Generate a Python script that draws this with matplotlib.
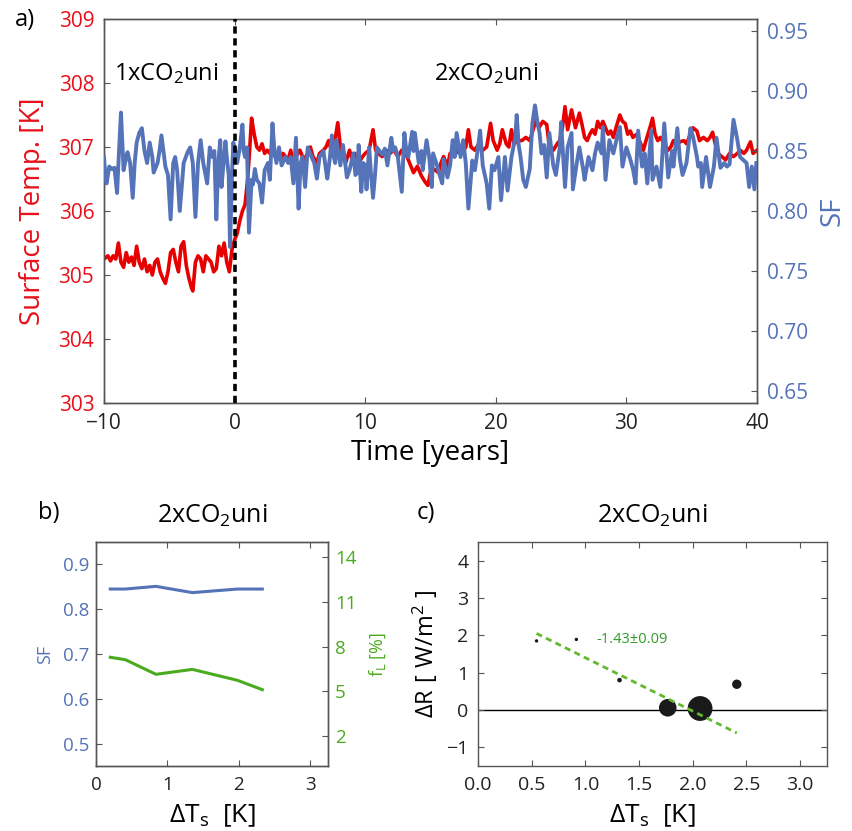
import numpy as np
import matplotlib
matplotlib.use("Agg")
import matplotlib.pyplot as plt

plt.rcParams['font.family'] = ['Open Sans', 'DejaVu Sans']
plt.rcParams['mathtext.fontset'] = 'custom'
plt.rcParams['mathtext.rm'] = 'Open Sans'
plt.rcParams['mathtext.it'] = 'Open Sans'

# ---------------- data: panel a ----------------
t_red = [-10.0, -9.7, -9.5, -9.3, -9.1, -8.9, -8.7, -8.5, -8.3, -8.1, -7.9, -7.7, -7.5, -7.3, -7.1,
         -6.9, -6.7, -6.5, -6.3, -6.1, -5.9, -5.7, -5.5, -5.3, -5.1, -4.9, -4.7, -4.5, -4.3, -4.1,
         -3.9, -3.7, -3.5, -3.3, -3.2, -3.0, -2.8, -2.6, -2.4, -2.2, -2.0, -1.8, -1.6, -1.4, -1.2,
         -1.0, -0.8, -0.6, -0.4, -0.2, 0.0, 0.2, 0.4, 0.6, 0.8, 1.0, 1.15, 1.3, 1.5, 1.7, 1.9, 2.1,
         2.3, 2.5, 2.7, 2.9, 3.1, 3.3, 3.5, 3.7, 3.9, 4.1, 4.3, 4.5, 4.7, 5.0, 5.3, 5.6, 5.8, 6.0,
         6.3, 6.5, 6.8, 7.0, 7.2, 7.4, 7.6, 7.9, 8.1, 8.3, 8.5, 8.8, 9.0, 9.2, 9.5, 9.8, 10.0, 10.3,
         10.6, 10.8, 11.0, 11.3, 11.6, 11.9, 12.2, 12.5, 12.8, 13.1, 13.4, 13.7, 14.0, 14.3, 14.6,
         14.8, 15.0, 15.3, 15.6, 15.8, 16.0, 16.3, 16.5, 16.8, 17.1, 17.4, 17.7, 17.9, 18.1, 18.4,
         18.7, 19.0, 19.3, 19.6, 19.8, 20.1, 20.3, 20.5, 20.8, 21.0, 21.2, 21.4, 21.7, 22.0, 22.3,
         22.6, 22.9, 23.1, 23.3, 23.6, 23.9, 24.1, 24.4, 24.7, 24.9, 25.1, 25.3, 25.5, 25.8, 26.1,
         26.4, 26.6, 26.8, 27.0, 27.2, 27.4, 27.6, 27.8, 28.0, 28.2, 28.4, 28.6, 28.8, 29.0, 29.2,
         29.5, 29.7, 29.9, 30.1, 30.3, 30.5, 30.8, 31.0, 31.3, 31.5, 31.8, 32.0, 32.2, 32.4, 32.6,
         32.9, 33.2, 33.4, 33.6, 33.9, 34.1, 34.4, 34.6, 34.9, 35.1, 35.4, 35.6, 35.9, 36.2, 36.4,
         36.6, 36.8, 37.0, 37.3, 37.6, 37.9, 38.2, 38.5, 38.7, 39.0, 39.2, 39.5, 39.7, 40.0]
temp = [305.25, 305.30, 305.22, 305.30, 305.25, 305.50, 305.20, 305.12, 305.35, 305.20, 305.28,
        305.15, 305.45, 305.20, 305.10, 305.25, 305.05, 305.15, 305.00, 305.20, 305.25, 305.05,
        304.95, 304.87, 305.05, 305.35, 305.40, 305.20, 305.05, 305.45, 305.52, 305.15, 304.95,
        304.80, 304.75, 305.20, 305.30, 305.25, 305.05, 305.30, 305.25, 305.20, 305.05, 305.10,
        305.45, 305.30, 305.50, 305.20, 305.05, 305.40, 305.55, 305.65, 305.85, 306.00, 306.10,
        306.50, 306.95, 307.45, 307.20, 307.00, 306.95, 307.05, 306.90, 306.95, 306.90, 307.00,
        306.85, 306.90, 306.80, 306.90, 306.85, 306.80, 306.95, 306.70, 306.85, 306.95, 306.80,
        306.90, 307.00, 306.85, 306.75, 306.90, 306.95, 307.00, 307.10, 306.95, 307.00, 307.38,
        307.00, 306.85, 306.75, 306.95, 306.80, 306.90, 306.75, 306.85, 306.90, 306.95, 307.27,
        306.95, 306.90, 306.85, 306.95, 306.90, 306.95, 306.85, 306.95, 306.90, 306.75, 306.60,
        306.70, 306.55, 306.45, 306.40, 306.60, 306.65, 306.60, 306.75, 306.85, 306.70, 306.90,
        306.85, 306.95, 306.90, 307.00, 307.27, 307.00, 306.95, 307.05, 306.95, 307.00, 307.37,
        307.10, 306.95, 307.05, 307.27, 307.05, 307.00, 307.27, 307.05, 307.10, 307.10, 307.15,
        307.10, 307.30, 307.45, 307.30, 307.40, 307.35, 307.00, 306.95, 307.05, 307.10, 307.30,
        307.63, 307.27, 307.58, 307.30, 307.53, 307.35, 307.15, 307.10, 307.20, 307.27, 307.20,
        307.40, 307.30, 307.40, 307.30, 307.20, 307.25, 307.15, 307.30, 307.50, 307.40, 307.37,
        307.20, 307.25, 307.15, 307.20, 307.10, 306.95, 307.10, 307.30, 307.45, 307.20, 307.10,
        307.15, 307.05, 306.95, 307.00, 307.10, 307.05, 307.08, 307.10, 307.05, 307.20, 307.30,
        307.25, 307.10, 307.15, 307.10, 307.15, 307.23, 307.05, 306.90, 306.85, 306.80, 306.90,
        306.85, 306.90, 306.95, 306.90, 306.95, 307.08, 306.90, 306.95]

t_blue = [-10.0, -9.9, -9.8, -9.6, -9.4, -9.2, -9.0, -8.85, -8.7, -8.5, -8.3, -8.2, -8.0, -7.8,
          -7.65, -7.5, -7.3, -7.1, -6.9, -6.7, -6.5, -6.3, -6.2, -5.9, -5.75, -5.6, -5.3, -5.1,
          -4.9, -4.7, -4.55, -4.4, -4.2, -3.9, -3.6, -3.4, -3.2, -3.0, -2.8, -2.6, -2.4, -2.1,
          -1.9, -1.7, -1.55, -1.4, -1.25, -1.1, -1.0, -0.85, -0.7, -0.6, -0.45, -0.35, -0.2, -0.1,
          0.05, 0.2, 0.4, 0.6, 0.7, 0.8, 0.95, 1.1, 1.3, 1.4, 1.55, 1.7, 1.9, 2.1, 2.3, 2.55, 2.7,
          2.9, 3.05, 3.2, 3.4, 3.6, 3.9, 4.1, 4.3, 4.5, 4.7, 4.9, 5.05, 5.2, 5.4, 5.6, 5.9, 6.1,
          6.3, 6.5, 6.8, 7.0, 7.1, 7.3, 7.45, 7.6, 7.7, 7.8, 8.0, 8.1, 8.3, 8.6, 8.8, 9.1, 9.25,
          9.4, 9.5, 9.7, 9.85, 10.0, 10.1, 10.3, 10.45, 10.6, 10.75, 10.9, 11.1, 11.3, 11.5, 11.7,
          12.0, 12.15, 12.3, 12.5, 12.8, 13.0, 13.15, 13.3, 13.6, 13.7, 13.8, 14.1, 14.3, 14.4,
          14.7, 14.9, 15.1, 15.2, 15.5, 15.7, 15.9, 16.0, 16.3, 16.5, 16.7, 16.85, 17.0, 17.3,
          17.5, 17.7, 17.9, 18.2, 18.4, 18.6, 18.8, 19.0, 19.3, 19.5, 19.7, 19.9, 20.2, 20.4,
          20.7, 20.9, 21.2, 21.5, 21.6, 21.75, 21.9, 22.1, 22.3, 22.6, 22.8, 23.0, 23.2, 23.35,
          23.5, 23.7, 23.9, 24.1, 24.4, 24.6, 24.9, 25.0, 25.3, 25.5, 25.8, 25.9, 26.2, 26.4,
          26.7, 26.8, 27.1, 27.4, 27.6, 27.8, 28.1, 28.2, 28.4, 28.7, 29.0, 29.3, 29.5, 29.7,
          30.0, 30.3, 30.5, 30.7, 30.9, 31.2, 31.4, 31.6, 31.9, 32.0, 32.3, 32.6, 32.9, 33.05,
          33.2, 33.5, 33.6, 33.9, 34.1, 34.3, 34.6, 34.9, 35.1, 35.4, 35.5, 35.7, 35.8, 36.1,
          36.4, 36.7, 36.9, 37.2, 37.5, 37.7, 37.9, 38.2, 38.5, 38.7, 38.9, 39.2, 39.4, 39.6,
          39.8, 39.95]
sf = [0.845, 0.830, 0.823, 0.837, 0.835, 0.836, 0.815, 0.850, 0.882, 0.834, 0.845, 0.849, 0.840,
      0.811, 0.840, 0.857, 0.865, 0.869, 0.850, 0.840, 0.857, 0.845, 0.832, 0.840, 0.850, 0.863,
      0.837, 0.830, 0.793, 0.840, 0.845, 0.834, 0.800, 0.840, 0.849, 0.853, 0.840, 0.795, 0.840,
      0.859, 0.840, 0.823, 0.853, 0.845, 0.850, 0.793, 0.840, 0.859, 0.820, 0.840, 0.858, 0.845,
      0.830, 0.770, 0.830, 0.857, 0.850, 0.840, 0.853, 0.872, 0.850, 0.845, 0.853, 0.782, 0.826,
      0.822, 0.835, 0.826, 0.823, 0.807, 0.834, 0.840, 0.826, 0.873, 0.850, 0.840, 0.853, 0.838,
      0.845, 0.840, 0.845, 0.823, 0.861, 0.802, 0.840, 0.845, 0.820, 0.853, 0.845, 0.840, 0.827,
      0.845, 0.850, 0.834, 0.827, 0.845, 0.863, 0.845, 0.840, 0.859, 0.845, 0.838, 0.855, 0.828,
      0.834, 0.848, 0.830, 0.832, 0.855, 0.816, 0.840, 0.838, 0.818, 0.853, 0.830, 0.811, 0.830,
      0.853, 0.850, 0.847, 0.852, 0.838, 0.861, 0.850, 0.853, 0.845, 0.816, 0.865, 0.850, 0.845,
      0.866, 0.850, 0.865, 0.840, 0.850, 0.834, 0.859, 0.845, 0.820, 0.848, 0.838, 0.830, 0.823,
      0.843, 0.828, 0.838, 0.859, 0.845, 0.865, 0.845, 0.859, 0.840, 0.802, 0.842, 0.834, 0.850,
      0.867, 0.838, 0.823, 0.802, 0.838, 0.834, 0.845, 0.809, 0.845, 0.817, 0.845, 0.862, 0.880,
      0.855, 0.845, 0.826, 0.820, 0.835, 0.873, 0.888, 0.873, 0.865, 0.848, 0.855, 0.828, 0.865,
      0.838, 0.830, 0.853, 0.874, 0.820, 0.853, 0.865, 0.818, 0.840, 0.853, 0.834, 0.826, 0.845,
      0.834, 0.848, 0.857, 0.848, 0.870, 0.826, 0.859, 0.848, 0.862, 0.870, 0.837, 0.853, 0.843,
      0.835, 0.823, 0.867, 0.837, 0.848, 0.823, 0.867, 0.826, 0.837, 0.820, 0.873, 0.850, 0.828,
      0.850, 0.837, 0.869, 0.843, 0.830, 0.840, 0.869, 0.862, 0.845, 0.837, 0.840, 0.820, 0.845,
      0.820, 0.837, 0.861, 0.836, 0.840, 0.837, 0.839, 0.876, 0.859, 0.845, 0.843, 0.840, 0.820,
      0.837, 0.818, 0.840]

# ---------------- data: panel b ----------------
dts_b = [0.2, 0.41, 0.84, 1.35, 1.98, 2.33]
sf_b = [0.845, 0.845, 0.851, 0.837, 0.845, 0.845]
fl_b = [7.28, 7.12, 6.14, 6.47, 5.74, 5.11]

# ---------------- data: panel c ----------------
dts_c = [0.545, 0.916, 1.318, 1.767, 2.068, 2.41]
dr_c = [1.85, 1.89, 0.80, 0.06, 0.04, 0.69]
slope_c = -1.43
slope_err_c = 0.09
intercept_c = 2.83

# ---------------- styles ----------------
RED = '#e60000'
RED_TXT = '#e8101a'
BLUE = '#5573b8'
GREEN = '#4aab1e'
GREEN_TXT = '#2f9a2a'
GREEN_DASH = '#62b92e'
SPINE = '#555555'
marker_sizes = [6, 6, 11, 160, 320, 46]

W, H = 852, 831
fig = plt.figure(figsize=(W / 100, H / 100), dpi=100)

def frac(l, t, r, b):
    return [l / W, 1 - b / H, (r - l) / W, (b - t) / H]

# ---------------- panel a ----------------
ax = fig.add_axes(frac(104, 19, 757, 403))
ax.plot(t_red, temp, color=RED, lw=2.6, zorder=3)
ax.set_xlim(-10, 40)
ax.set_ylim(303, 309)
ax.set_xticks([-10, 0, 10, 20, 30, 40])
ax.set_yticks(range(303, 310))
ax.set_xlabel('Time [years]', fontsize=20, labelpad=4)
ax.set_ylabel('Surface Temp. [K]', fontsize=20, color=RED_TXT, labelpad=8)
ax.tick_params(axis='x', direction='in', top=True, labelsize=15, length=4, pad=7,
               colors=SPINE, labelcolor='#222222')
ax.tick_params(axis='y', direction='in', labelsize=15, length=4, pad=7, colors=SPINE, labelcolor=RED_TXT)
ax.text(-9.2, 308.15, r'$\mathregular{1xCO_2uni}$', fontsize=17, va='center', ha='left')
ax.text(15.3, 308.15, r'$\mathregular{2xCO_2uni}$', fontsize=17, va='center', ha='left')

ax2 = ax.twinx()
ax2.plot(t_blue, sf, color=BLUE, lw=2.8, zorder=4)
ax2.axvline(0, color='black', lw=2.6, ls=(0, (2.0, 1.3)), zorder=5)
ax2.set_ylim(0.64, 0.96)
ax2.set_yticks([0.65, 0.70, 0.75, 0.80, 0.85, 0.90, 0.95])
ax2.set_yticklabels(['0.65', '0.70', '0.75', '0.80', '0.85', '0.90', '0.95'])
ax2.tick_params(axis='y', direction='in', labelsize=15, length=4, pad=7, colors=SPINE, labelcolor=BLUE)
ax2.set_ylabel('SF', fontsize=20, color=BLUE, labelpad=8)
for a in (ax, ax2):
    for s in a.spines.values():
        s.set_color(SPINE)
        s.set_linewidth(1.0)

# ---------------- panel b ----------------
bx = fig.add_axes(frac(96, 542, 328, 766))
bx.plot(dts_b, sf_b, color=BLUE, lw=2.2)
bx.set_xlim(0, 3.25)
bx.set_ylim(0.45, 0.95)
bx.set_xticks([0, 1, 2, 3])
bx.set_yticks([0.5, 0.6, 0.7, 0.8, 0.9])
bx.set_ylabel('SF', fontsize=13, color=BLUE, labelpad=6)
bx.set_xlabel(r'$\mathregular{\Delta T_s}$  [K]', fontsize=19, labelpad=6)
bx.set_title(r'$\mathregular{2xCO_2uni}$', fontsize=18, pad=14)
bx.tick_params(axis='x', direction='in', top=True, labelsize=13.5, length=4, pad=7,
               colors=SPINE, labelcolor='#222222')
bx.tick_params(axis='y', direction='in', labelsize=13.5, length=4, pad=5, colors=SPINE, labelcolor=BLUE)
bx2 = bx.twinx()
bx2.plot(dts_b, fl_b, color=GREEN, lw=2.2)
bx2.set_ylim(0, 15)
bx2.set_yticks([2, 5, 8, 11, 14])
bx2.tick_params(axis='y', direction='in', labelsize=13.5, length=4, pad=5, colors=SPINE, labelcolor=GREEN)
bx2.set_ylabel(r'$\mathregular{f_L}$ [%]', fontsize=13, color=GREEN, labelpad=8)
for a in (bx, bx2):
    for s in a.spines.values():
        s.set_color(SPINE)
        s.set_linewidth(1.0)

# ---------------- panel c ----------------
cx = fig.add_axes(frac(478, 542, 827, 766))
cx.axhline(0, color='black', lw=1.0, zorder=1)
cx.scatter(dts_c, dr_c, s=marker_sizes, color='#1a1a1a', zorder=3, linewidths=0)
xfit = np.array([min(dts_c), max(dts_c)])
cx.plot(xfit, intercept_c + slope_c * xfit, color=GREEN_DASH, lw=2.0, ls=(0, (2.2, 1.6)), zorder=4)
cx.text(1.1, 1.9, f'{slope_c:.2f}\u00b1{slope_err_c:.2f}', color=GREEN_TXT, fontsize=10.5,
        va='center', ha='left')
cx.set_xlim(0, 3.25)
cx.set_ylim(-1.5, 4.5)
cx.set_xticks([0.0, 0.5, 1.0, 1.5, 2.0, 2.5, 3.0])
cx.set_xticklabels(['0.0', '0.5', '1.0', '1.5', '2.0', '2.5', '3.0'])
cx.set_yticks([-1, 0, 1, 2, 3, 4])
cx.set_ylabel(r'$\mathregular{\Delta R\ [\ W/m^2\ ]}$', fontsize=17, labelpad=4)
cx.set_xlabel(r'$\mathregular{\Delta T_s}$  [K]', fontsize=19, labelpad=6)
cx.set_title(r'$\mathregular{2xCO_2uni}$', fontsize=18, pad=14)
cx.tick_params(direction='in', top=True, right=True, labelsize=14, length=4, pad=7,
               colors=SPINE, labelcolor='#222222')
for s in cx.spines.values():
    s.set_color(SPINE)
    s.set_linewidth(1.0)

fig.text(15 / W, 1 - 20 / H, 'a)', fontsize=17, va='center', ha='left')
fig.text(38 / W, 1 - 513 / H, 'b)', fontsize=17, va='center', ha='left')
fig.text(417 / W, 1 - 513 / H, 'c)', fontsize=17, va='center', ha='left')

fig.savefig('out.png', dpi=100)
